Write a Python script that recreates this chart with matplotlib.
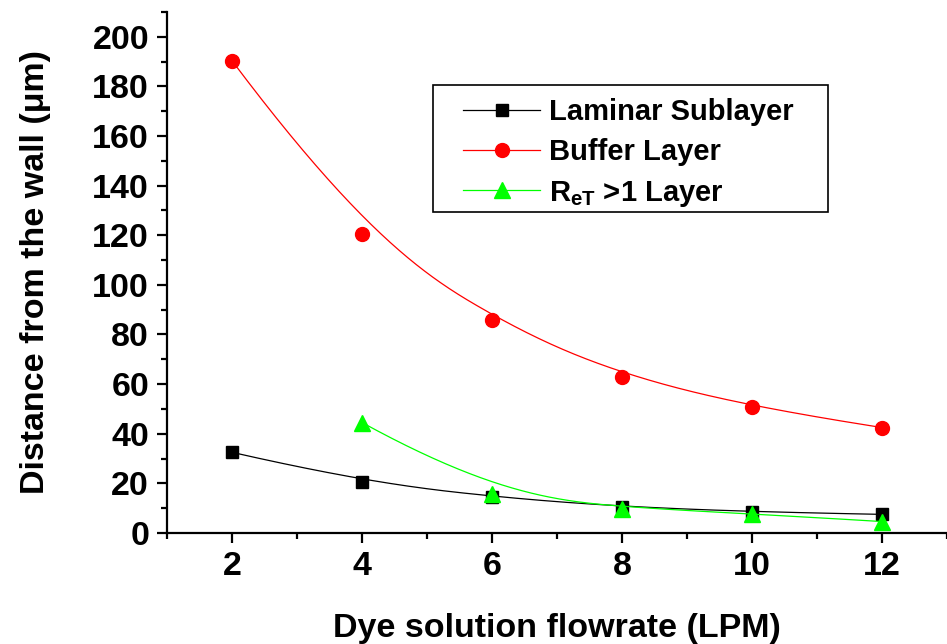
import numpy as np
import matplotlib
matplotlib.use('Agg')
import matplotlib.pyplot as plt
from matplotlib.patches import Rectangle
from matplotlib.transforms import IdentityTransform

plt.rcParams['font.family'] = ['Liberation Sans', 'DejaVu Sans']
plt.rcParams['font.weight'] = 'bold'
plt.rcParams['mathtext.fontset'] = 'custom'
plt.rcParams['mathtext.rm'] = 'Liberation Sans:bold'
plt.rcParams['mathtext.it'] = 'Liberation Sans:bold'
plt.rcParams['mathtext.bf'] = 'Liberation Sans:bold'

# данные
flow = [2, 4, 6, 8, 10, 12]
laminar = [32.5, 20.6, 14.5, 10.5, 8.5, 7.5]
buffer_layer = [190.3, 120.5, 85.8, 62.8, 50.7, 42.5]
flow_ret = [4, 6, 8, 10, 12]
ret_layer = [44.5, 15.8, 9.8, 7.8, 4.6]


def bspline(x, y, k=3, num=300):
    # сглаживающая B-сплайн кривая (точки данных = контрольные точки)
    P = np.column_stack([x, y]).astype(float)
    n = len(P)
    k = min(k, n - 1)
    inner = np.linspace(0, 1, n - k + 1)
    t = np.concatenate([np.zeros(k), inner, np.ones(k)])
    u = np.linspace(0, 1, num)
    u[-1] = 1 - 1e-12

    def N(i, p, uu):
        if p == 0:
            return ((t[i] <= uu) & (uu < t[i + 1])).astype(float)
        a = np.zeros_like(uu)
        b = np.zeros_like(uu)
        if t[i + p] > t[i]:
            a = (uu - t[i]) / (t[i + p] - t[i]) * N(i, p - 1, uu)
        if t[i + p + 1] > t[i + 1]:
            b = (t[i + p + 1] - uu) / (t[i + p + 1] - t[i + 1]) * N(i + 1, p - 1, uu)
        return a + b

    B = np.column_stack([N(i, k, u) for i in range(n)])
    C = B @ P
    return C[:, 0], C[:, 1]


fig = plt.figure(figsize=(9.47, 6.44), dpi=100)
ax = fig.add_axes([0.1765, 0.1724, 0.8235, 0.809])

series = [
    (flow, laminar, 'black', 's', 9, 'Laminar Sublayer'),
    (flow, buffer_layer, 'red', 'o', 10, 'Buffer Layer'),
    (flow_ret, ret_layer, '#00ff00', '^', 12, r'R$_{\mathrm{eT}}$ >1 Layer'),
]
for x, y, c, m, ms, lab in series:
    xs, ys = bspline(x, y)
    ax.plot(xs, ys, color=c, lw=0.9)
    ax.plot(x, y, ls='none', marker=m, color=c, ms=ms)
    # запись для легенды
    ax.plot([], [], color=c, lw=0.9, marker=m, ms=ms, label=lab)

ax.set_xlim(1, 13)
ax.set_ylim(0, 210)
ax.set_xticks([2, 4, 6, 8, 10, 12])
ax.set_xticks([1, 3, 5, 7, 9, 11, 13], minor=True)
ax.set_yticks(range(0, 201, 20))
ax.set_yticks(range(10, 211, 20), minor=True)

for s in ['top', 'right']:
    ax.spines[s].set_visible(False)
for s in ['left', 'bottom']:
    ax.spines[s].set_linewidth(1.6)

ax.tick_params(which='major', direction='out', length=7, width=1.6, labelsize=24.5, pad=6)
ax.tick_params(which='minor', direction='out', length=4, width=1.6)

ax.set_xlabel('Dye solution flowrate (LPM)', fontsize=24.5, fontweight='bold', labelpad=22)
ax.set_ylabel('Distance from the wall (μm)', fontsize=24.5, fontweight='bold', labelpad=30)

handles, labels = ax.get_legend_handles_labels()
leg = ax.legend(handles, labels,
                loc='upper left', bbox_to_anchor=(0.372, 0.846), fontsize=21,
                frameon=False, handlelength=2.65,
                handletextpad=0.3, borderpad=0.2, labelspacing=0.42, borderaxespad=0)

# рамка легенды шире по горизонтали, чем даёт matplotlib
fig.canvas.draw()
bb = leg.get_window_extent()
fig.patches.append(Rectangle((bb.x0 - 24, bb.y0 + 2), bb.width + 52, bb.height + 5,
                             transform=IdentityTransform(), fill=False,
                             edgecolor='black', lw=1.2, figure=fig))

plt.savefig('out.png', dpi=100)
